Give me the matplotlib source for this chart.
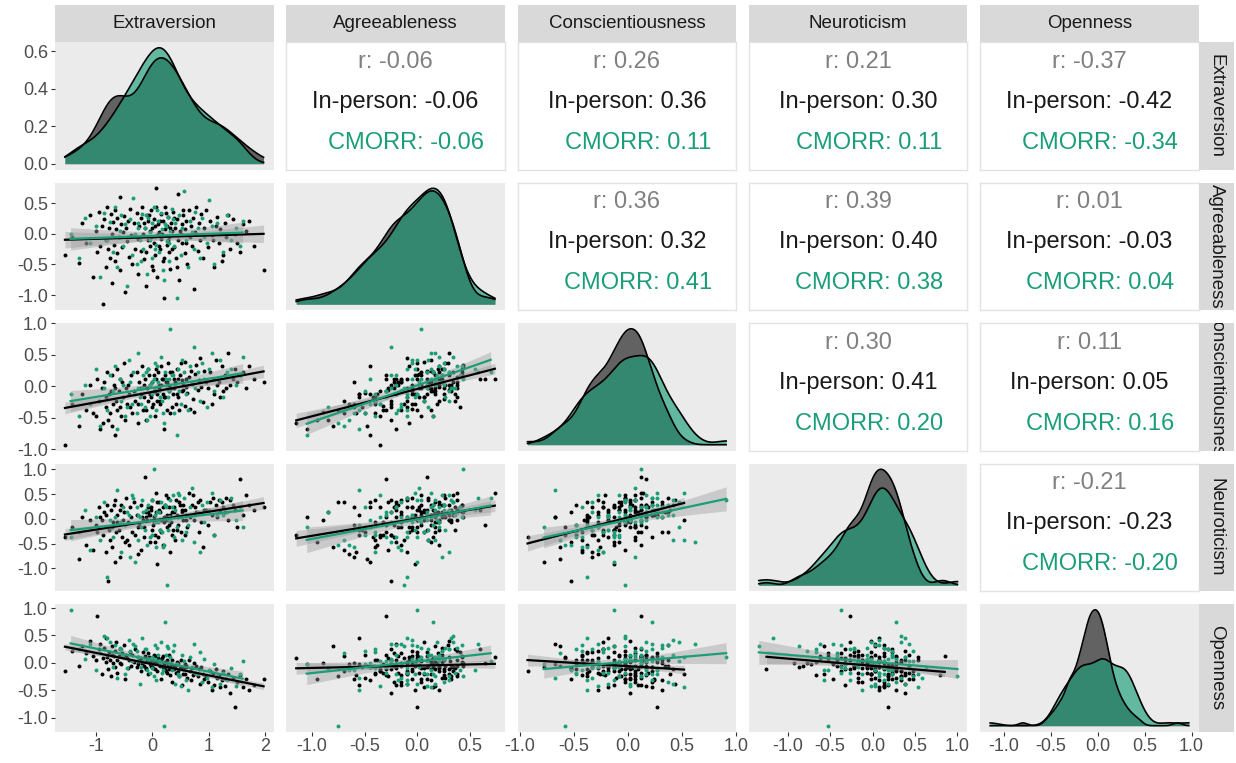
import numpy as np
import matplotlib.pyplot as plt

plt.rcParams['font.family'] = ['Liberation Sans', 'DejaVu Sans']

traits = ['Extraversion', 'Agreeableness', 'Conscientiousness', 'Neuroticism', 'Openness']

# in-person sessions (one value per participant, same order in every list)
inperson_ext = [
    -1.55, -1.42, -1.30, -1.25, -1.18, -1.10, -1.05, -1.00, -0.98, -0.95,
    -0.92, -0.90, -0.88, -0.85, -0.83, -0.82, -0.80, -0.78, -0.77, -0.75,
    -0.74, -0.72, -0.71, -0.70, -0.68, -0.67, -0.66, -0.64, -0.63, -0.62,
    -0.60, -0.58, -0.57, -0.55, -0.54, -0.52, -0.50, -0.48, -0.46, -0.45,
    -0.43, -0.41, -0.40, -0.38, -0.36, -0.32, -0.30, -0.28, -0.26, -0.25,
    -0.23, -0.21, -0.20, -0.18, -0.16, -0.15, -0.13, -0.12, -0.10, -0.08,
    -0.07, -0.05, -0.04, -0.02, -0.01, 0.00, 0.02, 0.03, 0.05, 0.06,
    0.08, 0.09, 0.10, 0.12, 0.13, 0.15, 0.16, 0.18, 0.19, 0.20,
    0.22, 0.23, 0.25, 0.26, 0.28, 0.29, 0.30, 0.32, 0.33, 0.35,
    0.36, 0.38, 0.40, 0.41, 0.43, 0.45, 0.46, 0.48, 0.50, 0.52,
    0.53, 0.55, 0.57, 0.58, 0.60, 0.62, 0.64, 0.66, 0.68, 0.70,
    0.72, 0.74, 0.76, 0.78, 0.80, 0.82, 0.85, 0.87, 0.90, 0.92,
    0.95, 0.98, 1.02, 1.05, 1.08, 1.10, 1.13, 1.15, 1.18, 1.20,
    1.23, 1.25, 1.28, 1.30, 1.34, 1.38, 1.42, 1.46, 1.50, 1.55,
    1.60, 1.66, 1.72, 1.80, 1.97,
    -0.14, -0.11, -0.06, -0.03, 0.01, 0.04, 0.07, 0.11, 0.14, 0.17,
    0.21, 0.24, 0.27, 0.31, 0.34, 0.39, 0.44, 0.49, 0.54, 0.59]
inperson_agr = [
    -0.35, -0.05, -0.48, 0.17, -0.15, 0.30, -0.70, 0.04, -0.30, 0.36,
    -0.20, 0.13, -1.15, 0.24, -0.10, -0.55, 0.43, -0.25, 0.09, -0.40,
    0.32, 0.00, -0.80, 0.19, -0.18, 0.38, -0.45, 0.07, 0.26, -0.32,
    -0.05, 0.60, -0.60, 0.15, -0.22, 0.02, 0.29, -0.95, 0.10, -0.12,
    0.21, -0.38, 0.41, -0.02, -0.50, 0.17, -0.25, 0.34, -0.08, -0.65,
    0.13, 0.26, -0.28, 0.44, 0.00, -0.42, 0.09, -0.85, 0.31, -0.10,
    0.20, -0.20, 0.04, 0.38, -0.52, 0.10, -0.15, 0.24, -0.35, 0.74,
    -0.02, -0.70, 0.15, 0.02, -0.25, 0.32, -0.08, -0.45, 0.21, -1.05,
    0.07, 0.43, -0.18, 0.13, 0.27, -0.30, -0.05, -0.58, 0.17, 0.04,
    0.36, -0.22, 0.10, -0.40, 0.24, -0.10, 0.65, -0.75, 0.00, 0.15,
    -0.15, 0.30, -0.32, 0.07, 0.21, -0.50, 0.38, -0.05, 0.13, -0.20,
    0.26, -0.90, 0.02, 0.44, -0.28, 0.17, -0.10, 0.32, -0.40, 0.09,
    0.38, -0.22, 0.21, -0.02, -0.10, -0.55, 0.13, 0.27, -0.15, 0.07,
    -0.45, -0.35, 0.17, -0.05, 0.30, -0.25, 0.24, 0.00, -0.15, -0.30,
    0.15, 0.04, 0.21, -0.20, -0.60,
    0.17, -0.30, 0.30, -0.05, -0.60, 0.13, 0.43, -0.20, 0.21, 0.00,
    -0.40, 0.34, -0.10, 0.09, -0.25, 0.26, -0.55, 0.04, 0.38, -0.15]
inperson_con = [
    -0.93, -0.28, -0.63, -0.13, -0.38, 0.02, -0.43, -0.48, 0.12, -0.23,
    -0.68, -0.03, -0.58, 0.07, -0.33, -0.18, 0.22, -0.53, -0.13, -0.43,
    -0.08, 0.17, -0.63, -0.28, 0.02, -0.03, -0.78, -0.23, 0.27, -0.38,
    -0.08, 0.12, -0.33, -0.48, 0.07, -0.18, 0.37, -0.53, -0.03, -0.28,
    0.02, -0.13, -0.33, 0.17, -0.43, -0.08, -0.23, 0.22, -0.58, -0.28,
    0.07, -0.13, -0.03, 0.32, -0.38, -0.18, 0.12, -0.53, -0.03, -0.23,
    0.27, -0.13, 0.02, -0.18, -0.33, 0.07, -0.08, 0.17, -0.48, 0.12,
    -0.13, -0.23, 0.22, -0.03, -0.28, 0.02, 0.32, -0.13, 0.12, -0.68,
    -0.18, 0.17, 0.07, -0.38, 0.37, -0.08, 0.02, -0.43, -0.03, 0.22,
    -0.13, 0.12, 0.07, -0.28, 0.27, -0.18, 0.12, -0.38, 0.37, -0.08,
    0.09, -0.06, -0.31, 0.39, -0.01, -0.11, 0.14, -0.36, 0.24, 0.04,
    -0.21, -0.41, 0.19, 0.34, -0.06, 0.09, 0.44, -0.01, -0.26, 0.24,
    0.07, -0.03, 0.22, -0.28, 0.12, -0.13, 0.42, 0.02, 0.07, -0.18,
    0.32, -0.08, 0.17, -0.03, 0.52, 0.02, 0.12, 0.27, 0.07, 0.17,
    0.22, -0.03, 0.32, 0.12, 0.07,
    0.02, -0.38, 0.17, -0.13, -0.28, -0.08, 0.27, 0.02, -0.23, 0.12,
    -0.18, 0.07, -0.03, 0.22, -0.33, -0.03, -0.13, 0.17, 0.02, 0.12]
inperson_neu = [
    -0.37, -0.17, -0.82, 0.03, -0.52, -0.02, -0.62, -0.12, -0.27, 0.23,
    0.03, -0.02, -0.32, 0.13, -0.67, 0.08, 0.28, -1.25, -0.22, -0.42,
    0.18, -0.17, -0.57, -0.07, 0.28, 0.38, -0.87, -0.27, 0.08, -0.07,
    -0.22, 0.18, -0.77, 0.28, -0.37, -0.02, 0.13, -0.47, 0.43, -0.42,
    -0.07, -0.52, 0.23, 0.03, -0.27, 0.33, -0.32, 0.08, -0.17, -0.72,
    -0.12, 0.28, -0.62, 0.03, -0.02, -0.37, 0.85, 0.13, -0.02, 0.23,
    0.13, -0.47, 0.08, 0.18, -0.22, 0.38, -0.07, 0.03, -0.32, 0.53,
    -0.92, 0.33, -0.37, 0.18, 0.13, -0.02, -0.27, 0.23, -0.52, 0.03,
    -0.02, 0.28, -0.17, 0.08, 0.43, -0.12, 0.23, -0.67, -0.07, 0.13,
    -0.22, 0.23, -0.42, 0.38, 0.08, 0.03, -0.12, 0.33, -0.27, 0.18,
    0.13, 0.28, -0.32, 0.18, -0.02, -0.17, 0.53, 0.03, 0.08, 0.28,
    0.48, -0.02, 0.23, 0.13, 0.33, -0.27, 0.38, -0.07, -0.57, 0.18,
    0.18, -0.12, 0.33, 0.08, 0.43, -0.32, 0.28, 0.03, 0.38, 0.13,
    0.33, 0.23, 0.13, 0.43, -0.02, 0.38, 0.28, 0.18, -0.17, 0.80,
    0.08, 0.48, 0.28, 0.18, 0.23,
    -0.17, 0.03, 0.08, 0.23, -0.12, -0.47, 0.13, 0.33, -0.22, -0.02,
    -0.07, 0.48, -0.02, 0.08, -0.32, 0.13, -0.22, 0.28, -0.02, 0.08]
inperson_opn = [
    -0.15, 0.22, -0.05, 0.30, 0.18, 0.40, 0.12, 0.05, 0.85, 0.25,
    0.35, -0.20, 0.08, 0.28, 0.02, 0.45, 0.10, -0.12, 0.20, 0.05,
    -0.25, 0.15, 0.30, 0.00, 0.12, 0.22, -0.08, 0.38, 0.05, -0.18,
    0.12, 0.25, 0.00, -0.02, 0.18, 0.10, 0.32, -0.30, 0.15, 0.08,
    -0.10, 0.05, 0.20, -0.05, 0.15, 0.02, 0.25, -0.08, 0.10, -0.02,
    0.05, -0.15, 0.08, 0.00, 0.20, -0.05, 0.12, -0.10, 0.03, -0.20,
    0.18, -0.02, 0.04, -0.06, -0.08, 0.06, 0.00, 0.15, -0.12, 0.10,
    -0.01, -0.15, 0.08, -0.04, 0.00, -0.30, 0.05, -0.08, 0.12, -0.03,
    -0.10, 0.02, -0.18, 0.06, -0.05, 0.15, -0.12, -0.22, -0.02, -0.35,
    -0.10, -0.05, -0.06, -0.18, 0.02, -0.15, 0.00, -0.25, 0.05, -0.08,
    -0.40, -0.12, -0.02, -0.20, -0.08, -0.28, 0.05, -0.15, -0.32, -0.10,
    -0.22, 0.00, -0.18, -0.05, -0.25, -0.12, -0.38, -0.08, -0.20, -0.30,
    -0.25, -0.35, -0.15, -0.50, -0.18, -0.40, -0.12, -0.28, -0.22, -0.45,
    -0.32, -0.15, -0.42, -0.30, -0.20, -0.55, -0.28, -0.80, -0.35, -0.22,
    -0.45, -0.30, -0.50, -0.40, -0.30,
    0.02, -0.12, 0.10, -0.02, -0.10, 0.00, 0.12, 0.05, -0.05, 0.08,
    -0.05, -0.15, 0.00, -0.08, 0.05, -0.12, -0.02, -0.10, -0.20, -0.05]

# CMORR sessions
cmorr_ext = [
    -1.45, -1.30, -1.20, -1.10, -1.00, -0.92, -0.85, -0.80, -0.75, -0.70,
    -0.66, -0.62, -0.58, -0.55, -0.52, -0.48, -0.45, -0.42, -0.40, -0.37,
    -0.34, -0.31, -0.28, -0.25, -0.22, -0.19, -0.16, -0.13, -0.10, -0.07,
    -0.04, -0.01, 0.02, 0.05, 0.07, 0.10, 0.12, 0.15, 0.17, 0.20,
    0.22, 0.25, 0.27, 0.30, 0.32, 0.35, 0.38, 0.40, 0.43, 0.45,
    0.48, 0.50, 0.53, 0.56, 0.60, 0.63, 0.66, 0.70, 0.73, 0.76,
    0.80, 0.84, 0.88, 0.92, 0.96, 1.00, 1.05, 1.10, 1.15, 1.20,
    1.25, 1.32, 1.40, 1.48, 1.55, 1.60,
    -0.26, -0.20, -0.12, -0.05, 0.00, 0.04, 0.09, 0.13, 0.19, 0.24,
    0.29, 0.36]
cmorr_agr = [
    0.00, -0.40, 0.26, -0.15, 0.13, -0.70, 0.34, -0.10, 0.19, -0.30,
    0.43, -0.55, 0.04, 0.30, -0.20, 0.15, -0.85, -0.05, 0.24, -0.35,
    0.58, 0.00, -0.50, 0.17, -0.10, 0.32, -0.25, 0.10, -0.65, 0.26,
    0.02, -0.40, 0.44, -0.05, -0.18, 0.21, -0.30, 0.34, 0.07, -0.75,
    0.15, -0.12, 0.27, -0.45, 0.04, 0.41, -0.20, 0.17, -1.05, -0.02,
    0.30, -0.35, 0.10, 0.70, -0.10, -0.55, 0.21, 0.02, -0.25, 0.36,
    0.09, -0.40, 0.26, -0.05, -0.15, 0.55, 0.13, -0.50, 0.17, 0.00,
    -0.30, 0.30, -0.10, 0.09, -0.20, 0.21,
    0.09, -0.45, 0.30, -0.10, 0.17, -0.25, 0.38, -0.02, -0.60, 0.13,
    -0.15, 0.24]
cmorr_con = [
    -0.13, -0.48, 0.02, -0.28, 0.27, -0.63, -0.03, -0.38, 0.17, -0.08,
    0.32, -0.68, 0.12, -0.23, 0.02, -0.48, -0.33, 0.42, 0.07, -0.28,
    0.22, -0.13, -0.43, 0.52, -0.18, -0.03, 0.17, -0.33, -0.53, 0.27,
    0.02, -0.13, 0.12, 0.37, -0.38, 0.07, -0.08, 0.47, -0.23, -0.58,
    0.22, -0.03, -0.18, 0.12, 0.91, 0.17, -0.43, 0.02, -0.78, 0.27,
    -0.08, -0.28, 0.42, 0.22, -0.13, -0.38, 0.32, 0.07, 0.62, -0.03,
    0.22, -0.23, 0.37, 0.12, -0.33, 0.27, 0.52, -0.08, 0.12, 0.42,
    -0.18, 0.22, 0.27, 0.02, 0.17, 0.47,
    -0.03, -0.28, 0.22, -0.48, 0.07, -0.03, 0.32, -0.18, -0.43, 0.12,
    -0.08, 0.17]
cmorr_neu = [
    -0.37, -0.27, 0.18, -0.62, 0.03, -0.42, 0.33, -1.17, -0.02, -0.37,
    0.03, 0.58, -0.07, -0.67, 0.23, -0.12, 0.13, 0.08, -0.77, 0.48,
    0.43, -0.87, 0.23, -0.42, 0.03, 0.38, 0.13, -0.22, -0.52, 0.28,
    -0.02, -0.32, 1.00, 0.08, -0.57, -0.07, 0.13, 0.33, -0.27, -0.52,
    0.28, -1.34, -0.22, -0.02, 0.38, 0.23, -0.37, 0.18, -0.17, 0.53,
    0.48, 0.03, -0.42, 0.43, -0.27, -0.12, 0.23, 0.63, -0.47, 0.08,
    0.13, -0.67, 0.28, -0.07, 0.33, 0.18, 0.53, -0.32, 0.08, 0.38,
    0.08, 0.13, 0.43, -0.02, 0.23, -0.17,
    0.08, -0.17, 0.18, -0.37, 0.38, -0.07, 0.13, -0.22, -0.57, 0.23,
    0.03, 0.48]
cmorr_opn = [
    0.97, 0.25, 0.07, 0.35, -0.14, 0.18, 0.49, 0.45, 0.38, -0.07,
    0.32, -0.28, 0.28, 0.25, 0.14, -0.21, -0.10, 0.42, 0.21, 0.03,
    0.35, 0.30, 0.21, 0.10, -0.38, 0.45, 0.03, 0.25, -0.14, 0.07,
    0.07, -0.10, -0.25, 0.32, -0.32, 0.14, 0.03, 0.38, -0.18, -1.15,
    0.75, 0.30, 0.28, 0.00, 0.10, -0.14, 0.32, -0.38, -0.03, -0.21,
    -0.25, -0.42, 0.14, 0.03, -0.32, -0.49, 0.10, -0.07, 0.35, -0.18,
    -0.21, 0.20, -0.35, 0.07, -0.28, -0.14, -0.45, -0.03, -0.25, -0.38,
    -0.18, -0.32, -0.10, -0.42, -0.21, 0.03,
    0.03, -0.07, 0.25, -0.18, 0.10, 0.07, 0.28, -0.03, -0.14, 0.14,
    0.00, 0.21]

# correlations printed in the upper triangle, pairs in row order
# (E-A, E-C, E-N, E-O, A-C, A-N, A-O, C-N, C-O, N-O)
r_all = [-0.06, 0.26, 0.21, -0.37, 0.36, 0.39, 0.01, 0.30, 0.11, -0.21]
r_inperson = [-0.06, 0.36, 0.30, -0.42, 0.32, 0.40, -0.03, 0.41, 0.05, -0.23]
r_cmorr = [-0.06, 0.11, 0.11, -0.34, 0.41, 0.38, 0.04, 0.20, 0.16, -0.20]

BLACK = '#000000'
GREEN = '#1B9E77'
PANEL = '#EBEBEB'
STRIP = '#D9D9D9'

inperson = [np.array(v) for v in (inperson_ext, inperson_agr, inperson_con,
                                  inperson_neu, inperson_opn)]
cmorr = [np.array(v) for v in (cmorr_ext, cmorr_agr, cmorr_con,
                               cmorr_neu, cmorr_opn)]
samples = [(inperson, BLACK, 0.58), (cmorr, GREEN, 0.65)]


def density(v, grid, adjust=0.8):
    # gaussian kernel, bandwidth as in R's bw.nrd0
    n = len(v)
    iqr = np.percentile(v, 75) - np.percentile(v, 25)
    bw = adjust * 0.9 * min(v.std(ddof=1), iqr / 1.34) * n ** -0.2
    z = (grid[:, None] - v[None, :]) / bw
    return np.exp(-0.5 * z ** 2).sum(axis=1) / (n * bw * np.sqrt(2 * np.pi))


def smooth(ax, x, y, color):
    # least squares line with 95% confidence band
    n = len(x)
    slope, icpt = np.polyfit(x, y, 1)
    xs = np.linspace(x.min(), x.max(), 100)
    ys = icpt + slope * xs
    s = np.sqrt(((y - icpt - slope * x) ** 2).sum() / (n - 2))
    se = s * np.sqrt(1 / n + (xs - x.mean()) ** 2 / ((x - x.mean()) ** 2).sum())
    tq = 1.96 + 2.37 / (n - 2)
    ax.fill_between(xs, ys - tq * se, ys + tq * se, color='#999999',
                    alpha=0.4, lw=0, zorder=3)
    ax.plot(xs, ys, color=color, lw=1.6, zorder=4)


# axis range of every trait: both samples, 5% padding
data_lo, data_hi, lims = [], [], []
for k in range(5):
    allv = np.concatenate([inperson[k], cmorr[k]])
    lo, hi = allv.min(), allv.max()
    pad = 0.05 * (hi - lo)
    data_lo.append(lo)
    data_hi.append(hi)
    lims.append((lo - pad, hi + pad))

W, H = 1236, 763
col_x = [55 + 231.3 * j for j in range(5)]
row_y = [42 + 140.5 * i for i in range(5)]
pw, ph = 218.5, 127.5


def rect(x, y, w, h):
    return [x / W, 1 - (y + h) / H, w / W, h / H]


def ticks_for(k):
    if k == 0:
        return [-1, 0, 1, 2], ['-1', '0', '1', '2']
    vals = [t for t in (-1.0, -0.5, 0.0, 0.5, 1.0) if lims[k][0] <= t <= lims[k][1]]
    return vals, [f'{t:.1f}' for t in vals]


fig = plt.figure(figsize=(W / 100, H / 100), dpi=100)

pairs = [(i, j) for i in range(5) for j in range(i + 1, 5)]

for i in range(5):
    for j in range(5):
        ax = fig.add_axes(rect(col_x[j], row_y[i], pw, ph))
        ax.tick_params(length=3, width=0.8, color='#333333', labelsize=13,
                       labelcolor='#4D4D4D', pad=2)
        ax.set_xticks([])
        ax.set_yticks([])

        if i < j:
            # correlation text
            k = pairs.index((i, j))
            ax.set_facecolor('white')
            for sp in ax.spines.values():
                sp.set_color('#E3E3E3')
                sp.set_linewidth(1.0)
            ax.set_xlim(0, 1)
            ax.set_ylim(0, 1)
            ax.text(0.5, 0.845, f'r: {r_all[k]:.2f}', color='#808080',
                    fontsize=17, ha='center', va='center')
            ax.text(0.5, 0.53, f'In-person: {r_inperson[k]:.2f}', color='#1A1A1A',
                    fontsize=17, ha='center', va='center')
            ax.text(0.55, 0.21, f'CMORR: {r_cmorr[k]:.2f}', color=GREEN,
                    fontsize=17, ha='center', va='center')
            continue

        ax.set_facecolor(PANEL)
        for sp in ax.spines.values():
            sp.set_visible(False)
        ax.set_xlim(*lims[j])

        if i == j:
            top = 0
            grid = np.linspace(data_lo[i], data_hi[i], 400)
            for data, color, alpha in samples:
                d = density(data[i], grid)
                top = max(top, d.max())
                ax.fill_between(grid, 0, d, color=color, alpha=alpha, lw=0)
                ax.plot(grid, d, color='black', lw=1.2)
            ax.set_ylim(-0.05 * top, 1.05 * top)
            if i == 0:
                yt = [t for t in (0.0, 0.2, 0.4, 0.6) if t <= 1.05 * top]
                ax.set_yticks(yt, [f'{t:.1f}' for t in yt])
        else:
            ax.set_ylim(*lims[i])
            for data, color, alpha in samples:
                ax.scatter(data[j], data[i], s=8, color=color, lw=0, zorder=2)
            for data, color, alpha in samples:
                smooth(ax, data[j], data[i], color)
            if j == 0:
                yt, yl = ticks_for(i)
                ax.set_yticks(yt, yl)

        if i == 4:
            xt, xl = ticks_for(j)
            ax.set_xticks(xt, xl)

# facet strips
for j in range(5):
    sx = fig.add_axes(rect(col_x[j], 5, pw, 37))
    sx.set_facecolor(STRIP)
    sx.set_xticks([])
    sx.set_yticks([])
    for sp in sx.spines.values():
        sp.set_visible(False)
    sx.text(0.5, 0.5, traits[j], ha='center', va='center', fontsize=13.5,
            color='#1A1A1A', transform=sx.transAxes)

for i in range(5):
    sy = fig.add_axes(rect(col_x[4] + pw, row_y[i], 35, ph))
    sy.set_facecolor(STRIP)
    sy.set_xticks([])
    sy.set_yticks([])
    for sp in sy.spines.values():
        sp.set_visible(False)
    t = sy.text(0.5, 0.5, traits[i], ha='center', va='center', rotation=-90,
                fontsize=13.5, color='#1A1A1A', transform=sy.transAxes)
    t.set_clip_on(True)
    t.set_clip_box(sy.bbox)

fig.savefig('out.png', dpi=100)
